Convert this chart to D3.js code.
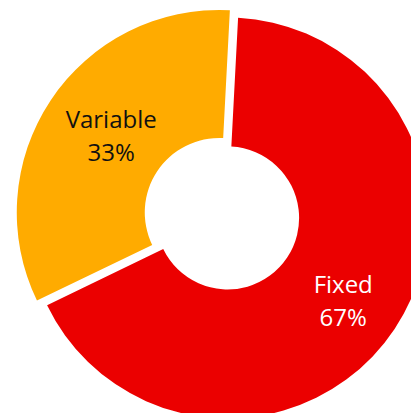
<!DOCTYPE html>
<html>
<head>
<meta charset="utf-8">
<script src="https://d3js.org/d3.v7.min.js"></script>
<style>
  body { margin: 0; background: #fff; }
  svg { display: block; }
</style>
</head>
<body>
<svg id="chart" width="411" height="413"></svg>
<script>
// chart data
const categories = ["Fixed", "Variable"];
const values = [67, 33];
const colors = ["#eb0000", "#ffab00"];
const labelColors = ["#ffffff", "#111111"];

const svg = d3.select("#chart");

// layout (Variable slice is pulled out a bit)
const cx = 227.6, cy = 218;
const rotation = 3 * Math.PI / 180;
const explode = [0, 10];
const inner = [71.5, 74.5];
const outer = [200.5, 202.5];
// small label nudges, like excel puts them
const nudge = [[1.5, 7], [6, -0.5]];

const total = d3.sum(values);
const pie = d3.pie().sort(null)
    .startAngle(rotation)
    .endAngle(rotation + 2 * Math.PI);

const arcs = pie(values);

const labelArc = d3.arc().innerRadius(137).outerRadius(137);

const g = svg.selectAll(".slice")
    .data(arcs)
  .enter().append("g")
    .attr("class", "slice")
    .attr("transform", (d, i) => {
        const mid = (d.startAngle + d.endAngle) / 2;
        const dx = Math.sin(mid) * explode[i];
        const dy = -Math.cos(mid) * explode[i];
        return "translate(" + (cx + dx) + "," + (cy + dy) + ")";
    });

g.append("path")
    .attr("d", (d, i) => d3.arc().innerRadius(inner[i]).outerRadius(outer[i])(d))
    .attr("fill", (d, i) => colors[i]);

const label = g.append("text")
    .attr("transform", (d, i) => {
        const c = labelArc.centroid(d);
        return "translate(" + (c[0] + nudge[i][0]) + "," + (c[1] + nudge[i][1]) + ")";
    })
    .attr("text-anchor", "middle")
    .attr("font-family", "'Open Sans', sans-serif")
    .attr("font-size", 24)
    .attr("fill", (d, i) => labelColors[i]);

label.append("tspan")
    .attr("x", 0)
    .attr("y", -8)
    .text((d, i) => categories[i]);

label.append("tspan")
    .attr("x", 0)
    .attr("y", 25)
    .text(d => Math.round(d.value / total * 100) + "%");
</script>
</body>
</html>
